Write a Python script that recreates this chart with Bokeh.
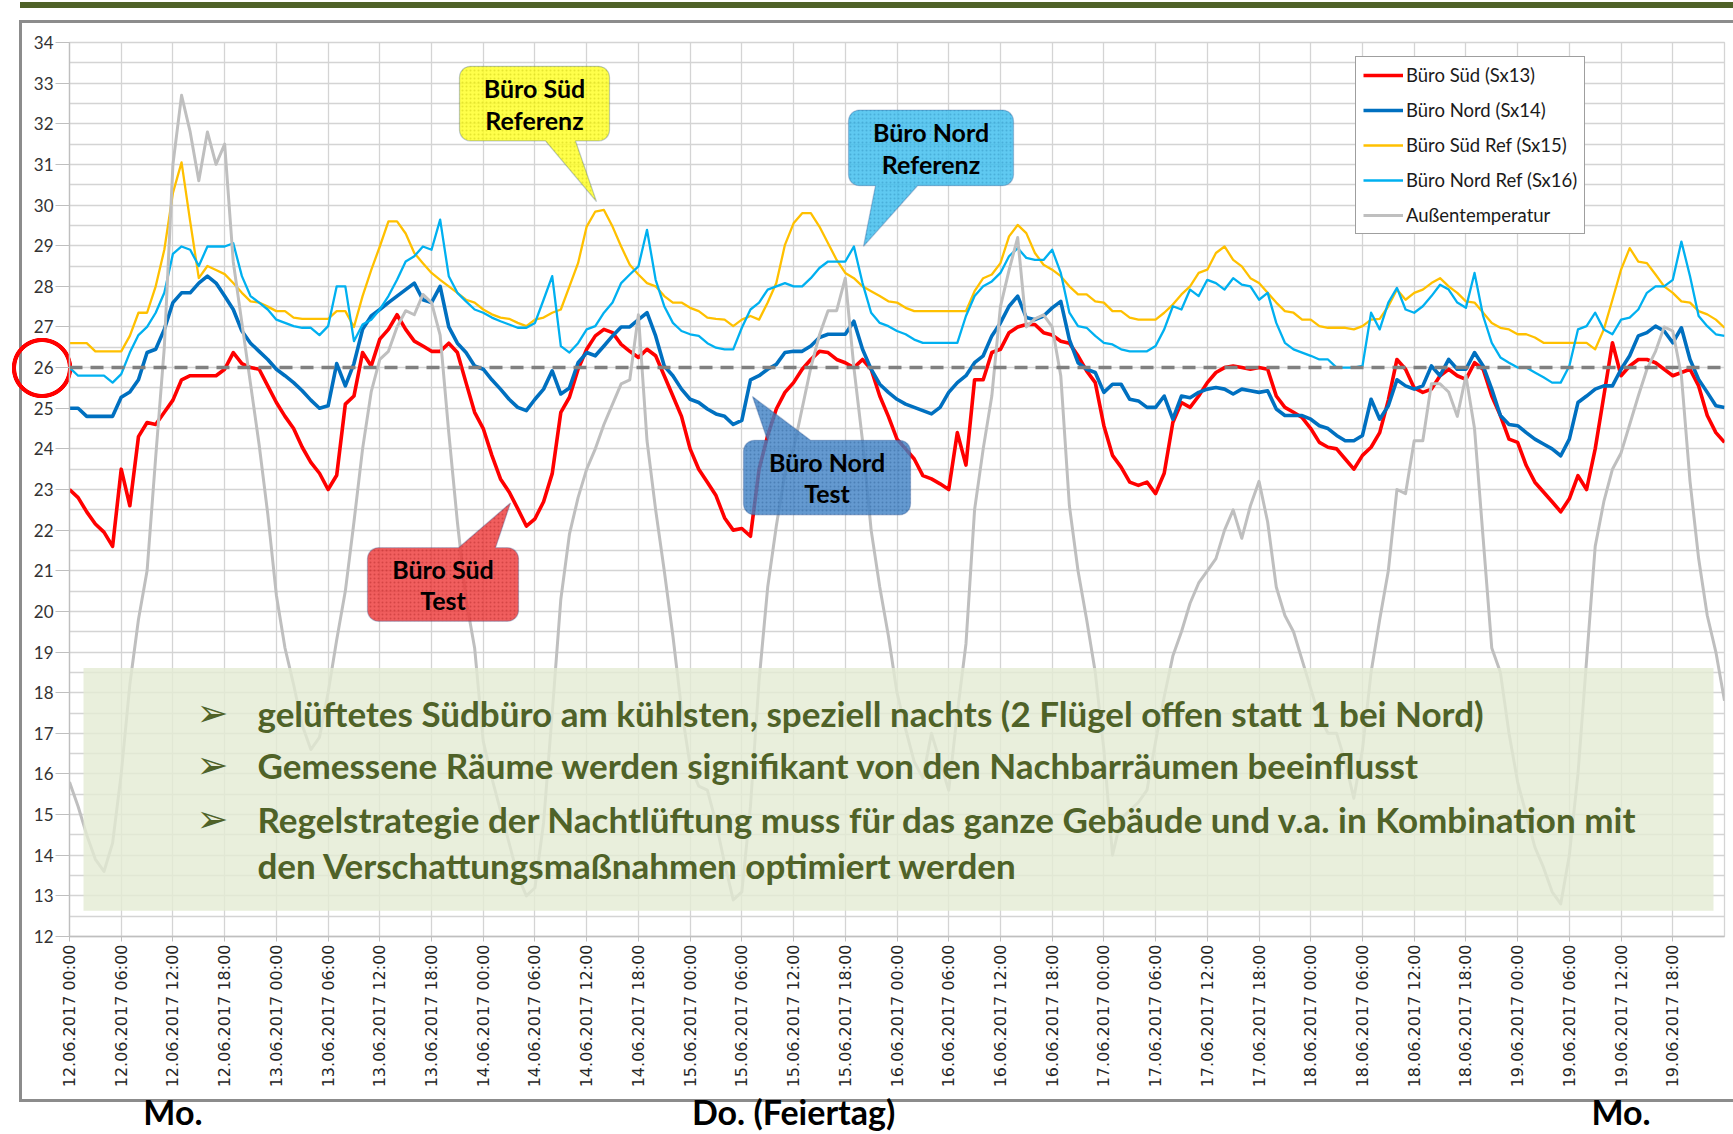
import math
from bokeh.plotting import figure
from bokeh.models import (Range1d, FixedTicker, Legend, LegendItem, LinearAxis,
                          Label, BoxAnnotation, PolyAnnotation, Span)
from bokeh.embed import file_html
from bokeh.resources import INLINE

# ---------------- data (hourly readings, 12.06.2017 00:00 .. 20.06.2017 00:00) ----------------
hours = list(range(193))

buero_sued = [
    23.0, 22.8, 22.45, 22.15, 21.95, 21.6, 23.5, 22.6, 24.3, 24.65, 24.6, 24.9,
    25.2, 25.7, 25.8, 25.8, 25.8, 25.8, 25.96, 26.37, 26.1, 26.0, 25.96, 25.55,
    25.14, 24.8, 24.5, 24.04, 23.67, 23.4, 23.0, 23.35, 25.1, 25.3, 26.37, 26.04,
    26.7, 26.94, 27.3, 26.94, 26.65, 26.53, 26.4, 26.4, 26.6, 26.37, 25.63, 24.9,
    24.5, 23.84, 23.26, 22.94, 22.53, 22.1, 22.28, 22.7, 23.39, 24.9, 25.27, 25.96,
    26.45, 26.78, 26.94, 26.86, 26.57, 26.4, 26.25, 26.45, 26.29, 25.8, 25.3, 24.8,
    24.0, 23.5, 23.18, 22.85, 22.3, 22.0, 22.04, 21.85, 23.5, 24.33, 24.98, 25.39,
    25.63, 25.96, 26.2, 26.4, 26.37, 26.2, 26.12, 26.0, 26.2, 25.96, 25.3, 24.8,
    24.24, 24.0, 23.75, 23.34, 23.26, 23.14, 23.0, 24.4, 23.6, 25.7, 25.7, 26.37,
    26.45, 26.86, 27.0, 27.06, 27.06, 26.86, 26.8, 26.65, 26.6, 26.29, 25.92, 25.63,
    24.57, 23.84, 23.55, 23.18, 23.1, 23.18, 22.9, 23.4, 24.65, 25.14, 25.02, 25.3,
    25.63, 25.88, 26.0, 26.04, 26.0, 25.96, 26.0, 25.96, 25.3, 25.02, 24.9, 24.77,
    24.5, 24.16, 24.04, 24.0, 23.75, 23.5, 23.84, 24.04, 24.4, 25.2, 26.2, 25.96,
    25.5, 25.39, 25.47, 25.8, 25.96, 25.8, 25.71, 26.12, 25.96, 25.3, 24.82, 24.24,
    24.16, 23.59, 23.18, 22.94, 22.7, 22.45, 22.77, 23.34, 23.0, 24.0, 25.3, 26.61,
    25.8, 26.04, 26.2, 26.2, 26.12, 25.96, 25.8, 25.88, 25.96, 25.55, 24.82, 24.4,
    24.16]

buero_nord = [
    25.0, 25.0, 24.8, 24.8, 24.8, 24.8, 25.27, 25.4, 25.7, 26.37, 26.45, 26.94,
    27.6, 27.84, 27.84, 28.08, 28.25, 28.08, 27.76, 27.43, 26.9, 26.6, 26.4, 26.2,
    25.96, 25.8, 25.63, 25.43, 25.2, 25.0, 25.06, 26.1, 25.55, 26.1, 26.94, 27.27,
    27.43, 27.6, 27.76, 27.92, 28.08, 27.67, 27.6, 28.0, 27.0, 26.6, 26.37, 26.04,
    25.96, 25.7, 25.47, 25.22, 25.02, 24.94, 25.22, 25.47, 25.92, 25.35, 25.5, 26.12,
    26.37, 26.29, 26.53, 26.78, 27.0, 27.0, 27.18, 27.35, 26.78, 26.04, 25.8, 25.47,
    25.22, 25.14, 24.98, 24.86, 24.8, 24.6, 24.7, 25.7, 25.8, 25.96, 26.08, 26.37,
    26.4, 26.4, 26.53, 26.74, 26.82, 26.82, 26.82, 27.14, 26.45, 25.96, 25.59, 25.39,
    25.22, 25.1, 25.02, 24.94, 24.86, 25.02, 25.39, 25.63, 25.8, 26.12, 26.29, 26.78,
    27.1, 27.51, 27.76, 27.23, 27.18, 27.27, 27.47, 27.63, 26.69, 26.12, 25.96, 25.88,
    25.39, 25.59, 25.59, 25.22, 25.18, 25.02, 25.02, 25.3, 24.73, 25.3, 25.26, 25.39,
    25.47, 25.51, 25.47, 25.35, 25.47, 25.43, 25.39, 25.43, 24.98, 24.82, 24.82, 24.82,
    24.73, 24.57, 24.5, 24.33, 24.2, 24.2, 24.33, 25.22, 24.73, 25.06, 25.7, 25.55,
    25.47, 25.55, 26.04, 25.8, 26.2, 25.96, 25.96, 26.37, 26.04, 25.47, 24.82, 24.6,
    24.57, 24.4, 24.24, 24.12, 24.0, 23.83, 24.24, 25.14, 25.3, 25.47, 25.55, 25.55,
    25.96, 26.29, 26.78, 26.86, 27.02, 26.9, 26.61, 26.98, 26.2, 25.71, 25.39, 25.06,
    25.02]

buero_sued_ref = [
    26.6, 26.6, 26.6, 26.4, 26.4, 26.4, 26.4, 26.78, 27.35, 27.35, 28.0, 28.9,
    30.3, 31.05, 29.6, 28.2, 28.5, 28.4, 28.3, 28.08, 27.84, 27.63, 27.6, 27.5,
    27.39, 27.39, 27.23, 27.2, 27.2, 27.2, 27.2, 27.39, 27.39, 27.0, 27.76, 28.4,
    28.98, 29.6, 29.6, 29.3, 28.82, 28.57, 28.33, 28.16, 28.0, 27.84, 27.67, 27.6,
    27.43, 27.31, 27.23, 27.2, 27.1, 27.02, 27.18, 27.23, 27.35, 27.43, 28.0, 28.57,
    29.47, 29.84, 29.88, 29.47, 28.98, 28.53, 28.29, 28.08, 28.0, 27.76, 27.6, 27.6,
    27.47, 27.39, 27.23, 27.2, 27.18, 27.02, 27.18, 27.27, 27.18, 27.6, 28.08, 29.02,
    29.55, 29.8, 29.8, 29.47, 29.06, 28.65, 28.33, 28.2, 28.0, 27.88, 27.76, 27.63,
    27.6, 27.47, 27.39, 27.39, 27.39, 27.39, 27.39, 27.39, 27.39, 27.88, 28.2, 28.29,
    28.57, 29.23, 29.51, 29.31, 28.82, 28.53, 28.41, 28.25, 28.0, 27.8, 27.8, 27.63,
    27.6, 27.39, 27.39, 27.23, 27.18, 27.18, 27.18, 27.35, 27.55, 27.8, 28.0, 28.33,
    28.41, 28.82, 28.98, 28.65, 28.49, 28.2, 28.08, 27.84, 27.6, 27.39, 27.35, 27.18,
    27.18, 27.02, 26.98, 26.98, 26.98, 26.94, 27.02, 27.18, 27.2, 27.51, 27.92, 27.67,
    27.84, 27.92, 28.08, 28.2, 28.0, 27.84, 27.63, 27.6, 27.35, 27.1, 26.98, 26.94,
    26.82, 26.82, 26.74, 26.61, 26.61, 26.61, 26.61, 26.61, 26.61, 26.45, 26.94, 27.67,
    28.41, 28.94, 28.61, 28.57, 28.29, 28.0, 27.84, 27.63, 27.6, 27.39, 27.31, 27.18,
    26.98]

buero_nord_ref = [
    26.0, 25.8, 25.8, 25.8, 25.8, 25.63, 25.84, 26.37, 26.8, 27.0, 27.35, 27.84,
    28.8, 28.98, 28.9, 28.5, 28.98, 28.98, 28.98, 29.06, 28.25, 27.76, 27.6, 27.43,
    27.18, 27.1, 27.02, 26.98, 26.98, 26.8, 27.02, 28.0, 28.0, 26.65, 27.06, 27.18,
    27.43, 27.76, 28.16, 28.61, 28.74, 28.98, 28.9, 29.64, 28.25, 27.84, 27.63, 27.43,
    27.35, 27.23, 27.14, 27.06, 26.98, 26.98, 27.1, 27.67, 28.25, 26.53, 26.37, 26.6,
    26.94, 27.02, 27.35, 27.6, 28.08, 28.29, 28.49, 29.39, 28.16, 27.51, 27.1, 26.9,
    26.82, 26.78, 26.6, 26.49, 26.45, 26.45, 26.98, 27.43, 27.6, 27.92, 28.0, 28.08,
    28.0, 28.0, 28.2, 28.45, 28.61, 28.61, 28.61, 28.98, 28.08, 27.35, 27.1, 27.02,
    26.9, 26.82, 26.69, 26.61, 26.61, 26.61, 26.61, 26.61, 27.27, 27.76, 28.0, 28.12,
    28.33, 28.74, 28.94, 28.7, 28.65, 28.65, 28.9, 28.33, 27.35, 27.02, 26.98, 26.78,
    26.61, 26.57, 26.45, 26.4, 26.4, 26.4, 26.53, 26.94, 27.51, 27.43, 27.92, 27.76,
    28.16, 28.08, 27.92, 28.2, 28.04, 28.0, 27.67, 27.84, 27.1, 26.61, 26.45, 26.37,
    26.29, 26.2, 26.2, 26.0, 26.0, 26.0, 26.04, 27.35, 26.94, 27.6, 27.96, 27.43,
    27.35, 27.51, 27.76, 28.04, 27.92, 27.6, 27.47, 28.33, 27.27, 26.61, 26.25, 26.12,
    26.0, 26.0, 25.88, 25.76, 25.63, 25.63, 26.04, 26.94, 27.02, 27.35, 26.94, 26.82,
    27.18, 27.23, 27.43, 27.84, 28.0, 28.0, 28.16, 29.1, 28.25, 27.27, 27.02, 26.82,
    26.78]

aussen = [
    15.8, 15.2, 14.5, 13.9, 13.6, 14.3, 16.0, 18.2, 19.8, 21.0, 23.8, 26.5,
    31.0, 32.7, 31.8, 30.6, 31.8, 31.0, 31.5, 28.6, 27.1, 25.6, 24.1, 22.4,
    20.4, 19.1, 18.2, 17.2, 16.6, 16.9, 18.0, 19.3, 20.5, 22.2, 24.0, 25.4,
    26.2, 26.4, 27.0, 27.4, 27.3, 27.8, 27.6, 26.8, 24.4, 22.2, 20.3, 19.1,
    16.8, 15.9, 15.1, 14.3, 13.5, 13.0, 13.2, 14.8, 17.5, 20.3, 21.9, 22.8,
    23.5, 24.0, 24.6, 25.1, 25.6, 25.7, 27.3, 24.2, 22.5, 21.0, 19.4, 17.6,
    16.2, 15.7, 15.6, 14.8, 13.8, 12.9, 13.1, 15.2, 18.3, 20.6, 22.1, 23.4,
    24.0, 25.0, 26.0, 26.8, 27.4, 27.4, 28.2, 26.0, 24.2, 22.0, 20.6, 19.4,
    18.0, 17.1, 16.3, 15.9, 17.0, 16.3, 15.6, 17.5, 19.2, 22.5, 24.0, 25.3,
    27.5, 28.4, 29.2, 27.0, 27.2, 27.3, 27.0, 25.8, 22.6, 21.0, 19.8, 18.5,
    16.6, 14.0, 14.9, 15.1, 15.3, 15.6, 16.8, 17.9, 18.9, 19.5, 20.2, 20.7,
    21.0, 21.3, 22.0, 22.5, 21.8, 22.6, 23.2, 22.2, 20.6, 19.9, 19.5, 18.8,
    18.1, 17.4, 17.0, 17.0, 16.3, 15.4, 16.6, 18.5, 19.8, 21.0, 23.0, 22.9,
    24.2, 24.2, 25.6, 25.6, 25.4, 24.8, 25.8, 24.5, 21.8, 19.1, 18.5, 17.0,
    15.8, 15.0, 14.2, 13.7, 13.1, 12.8, 14.0, 16.0, 18.8, 21.6, 22.7, 23.5,
    23.9, 24.6, 25.3, 25.96, 26.4, 27.0, 26.9, 25.8, 23.2, 21.3, 19.9, 19.0,
    17.8]

series_names = ["Büro Süd (Sx13)", "Büro Nord (Sx14)", "Büro Süd Ref (Sx15)",
                "Büro Nord Ref (Sx16)", "Außentemperatur"]
series_values = [buero_sued, buero_nord, buero_sued_ref, buero_nord_ref, aussen]

day_labels = ["12.06.2017", "13.06.2017", "14.06.2017", "15.06.2017",
              "16.06.2017", "17.06.2017", "18.06.2017", "19.06.2017"]
time_labels = ["00:00", "06:00", "12:00", "18:00"]
tick_labels = [f"{d} {t}" for d in day_labels for t in time_labels]
tick_hours = [6 * i for i in range(len(tick_labels))]

comfort_limit = 26
y_ticks = list(range(12, 35))

callout_texts = [["Büro Süd", "Referenz"], ["Büro Nord", "Referenz"],
                 ["Büro Nord", "Test"], ["Büro Süd", "Test"]]
bullets = ["gelüftetes Südbüro am kühlsten, speziell nachts (2 Flügel offen statt 1 bei Nord)",
           "Gemessene Räume werden signifikant von den Nachbarräumen beeinflusst",
           "Regelstrategie der Nachtlüftung muss für das ganze Gebäude und v.a. in Kombination mit",
           "den Verschattungsmaßnahmen optimiert werden"]
day_names = ["Mo.", "Do. (Feiertag)", "Mo."]
day_name_hours = [12, 84, 180]

# ---------------- styles / layout ----------------
colors = ["#FF0000", "#0070C0", "#FFC000", "#00B0F0", "#BFBFBF"]
widths = [3.6, 3.6, 2.3, 2.3, 3.0]
GRID = "#D4D4D4"
OLIVE = "#4F6228"

W, H = 1733, 1134
FL, FR, FT, FB = 69, 1724, 42, 941      # pixel edges of the plot frame
XMIN, XMAX, YMIN, YMAX = 0, 192, 12, 34


def dx(px):
    return XMIN + (px - FL) * (XMAX - XMIN) / (FR - FL)


def dy(py):
    return YMAX - (py - FT) * (YMAX - YMIN) / (FB - FT)


p = figure(width=W, height=H, x_range=Range1d(XMIN, XMAX), y_range=Range1d(YMIN, YMAX),
           output_backend="svg", toolbar_location=None,
           min_border_left=FL, min_border_right=W - FR,
           min_border_top=FT, min_border_bottom=H - FB)
p.background_fill_color = None
p.border_fill_color = None
p.outline_line_color = GRID
p.outline_line_width = 1.3

# page decorations outside the plot frame (outer frame, top bar, red ring around 26)
p.styles = {"background": (
    "radial-gradient(circle at 42px 368px, rgba(255,0,0,0) 25.5px, #FF0000 26.2px, "
    "#FF0000 29.8px, rgba(255,0,0,0) 30.5px) 0px 0px / 100% 100% no-repeat, "
    f"linear-gradient({OLIVE}, {OLIVE}) 20px 2px / 1713px 6px no-repeat, "
    "linear-gradient(#8C8C8C, #8C8C8C) 19px 20px / 1714px 3px no-repeat, "
    "linear-gradient(#8C8C8C, #8C8C8C) 19px 20px / 3px 1082px no-repeat, "
    "linear-gradient(#8C8C8C, #8C8C8C) 19px 1099px / 1714px 3px no-repeat, "
    "#FFFFFF")}

# axes
xa = p.xaxis[0]
xa.ticker = FixedTicker(ticks=tick_hours)
xa.major_label_overrides = {h: lab for h, lab in zip(tick_hours, tick_labels)}
xa.major_label_orientation = math.pi / 2
xa.major_label_text_font = "DejaVu Sans"
xa.major_label_text_font_size = "16px"
xa.major_label_text_color = "#262626"
xa.major_label_standoff = 3
xa.major_tick_out = 5
xa.major_tick_in = 0
xa.major_tick_line_color = "#BFBFBF"
xa.minor_tick_line_color = None
xa.axis_line_color = "#BFBFBF"
xa.axis_line_width = 1.3

day_axis = LinearAxis(ticker=FixedTicker(ticks=day_name_hours),
                      major_label_overrides={h: t for h, t in zip(day_name_hours, day_names)})
day_axis.axis_line_color = None
day_axis.major_tick_line_color = None
day_axis.minor_tick_line_color = None
day_axis.major_tick_out = 0
day_axis.major_tick_in = 0
day_axis.major_label_standoff = 0
day_axis.major_label_text_font = "Lato"
day_axis.major_label_text_font_style = "bold"
day_axis.major_label_text_font_size = "34px"
day_axis.major_label_text_color = "black"
p.add_layout(day_axis, "below")

ya = p.yaxis[0]
ya.ticker = FixedTicker(ticks=y_ticks, minor_ticks=[t + 0.5 for t in y_ticks[:-1]])
ya.major_label_text_font = "Lato"
ya.major_label_text_font_size = "17px"
ya.major_label_text_color = "#333333"
ya.major_label_standoff = 2
ya.major_tick_out = 14
ya.major_tick_in = 0
ya.major_tick_line_color = "#BFBFBF"
ya.minor_tick_line_color = None
ya.axis_line_color = "#BFBFBF"
ya.axis_line_width = 1.3

p.xgrid.grid_line_color = GRID
p.xgrid.grid_line_width = 1.3
p.ygrid.grid_line_color = GRID
p.ygrid.grid_line_width = 1.3
p.ygrid.minor_grid_line_color = GRID
p.ygrid.minor_grid_line_width = 1.3

# series
items = []
for name, vals, c, w in zip(series_names, series_values, colors, widths):
    r = p.line(hours, vals, line_color=c, line_width=w, line_join="round")
    items.append(LegendItem(label=name, renderers=[r]))

# 26 °C limit
p.add_layout(Span(location=comfort_limit, dimension="width", line_color="#808080",
                  line_width=3.5, line_dash="13 8"))

legend = Legend(items=items, location=(1355 - FL, FB - 239))
legend.label_text_font = "Lato"
legend.label_text_font_size = "18.5px"
legend.label_text_color = "#1a1a1a"
legend.glyph_width = 40
legend.glyph_height = 20
legend.label_height = 20
legend.label_standoff = 3
legend.spacing = 13
legend.padding = 7
legend.margin = 0
legend.border_line_color = "#404040"
legend.border_line_width = 1.3
legend.background_fill_color = "white"
legend.background_fill_alpha = 1
p.add_layout(legend)

# light green text panel
p.add_layout(BoxAnnotation(left=dx(83), right=dx(1713), top=dy(671), bottom=dy(915),
                           fill_color="#E3EBD3", fill_alpha=0.8, line_color=None))
bullet_y = [716, 769, 823, 869]
for i, (txt, yy) in enumerate(zip(bullets, bullet_y)):
    if i < 3:
        p.add_layout(Label(x=dx(212), y=dy(yy), text="➢", text_align="center",
                           text_baseline="middle", text_font="DejaVu Sans",
                           text_font_style="bold", text_font_size="38px", text_color=OLIVE))
    p.add_layout(Label(x=dx(257), y=dy(yy), text=txt, text_align="left",
                       text_baseline="middle", text_font="Lato", text_font_style="bold",
                       text_font_size="35px", text_color=OLIVE))


# callouts
def callout_poly(L, T, R, B, r, edge, b0, b1, tip):
    pts = []

    def arc(cx, cy, a0, a1):
        for k in range(7):
            a = math.radians(a0 + (a1 - a0) * k / 6)
            pts.append((cx + r * math.cos(a), cy + r * math.sin(a)))
    arc(L + r, T + r, 180, 270)
    if edge == "top":
        pts.extend([(b0, T), tip, (b1, T)])
    arc(R - r, T + r, 270, 360)
    arc(R - r, B - r, 0, 90)
    if edge == "bottom":
        pts.extend([(b1, B), tip, (b0, B)])
    arc(L + r, B - r, 90, 180)
    return [dx(x) for x, _ in pts], [dy(y) for _, y in pts]


callout_boxes = [
    (459, 66, 609, 141, "bottom", 545, 575, (596, 202), "#FFFF22", "#B8B800"),
    (848, 110, 1013, 186, "bottom", 875, 917, (863, 247), "#3CBDEE", "#1F7FB0"),
    (743, 442, 910, 517, "top", 767, 810, (752, 398), "#4283C6", "#1F4F86"),
    (367, 550, 518, 624, "top", 458, 495, (510, 505), "#EE3B3B", "#A01818"),
]
for (L, T, R, B, edge, b0, b1, tip, fc, hc), lines in zip(callout_boxes, callout_texts):
    xs, ys = callout_poly(L, T, R, B, 11, edge, b0, b1, tip)
    p.add_layout(PolyAnnotation(xs=xs, ys=ys, fill_color=fc, fill_alpha=0.82,
                                line_color="#2F528F", line_width=1.3,
                                hatch_pattern="dot", hatch_color=hc, hatch_alpha=0.35,
                                hatch_scale=4, hatch_weight=1.2))
    cx = (L + R) / 2
    cy = (T + B) / 2
    for k, t in enumerate(lines):
        p.add_layout(Label(x=dx(cx), y=dy(cy - 16 + 32 * k), text=t, text_align="center",
                           text_baseline="middle", text_font="Lato", text_font_style="bold",
                           text_font_size="25px", text_color="black"))

open("out.html", "w").write(file_html(p, INLINE))
